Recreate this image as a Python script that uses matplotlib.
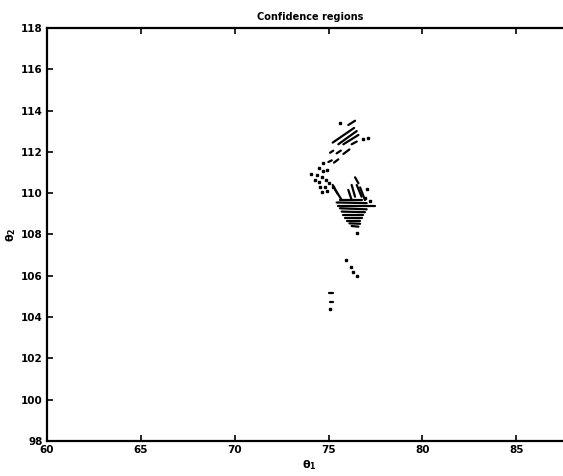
import matplotlib
matplotlib.use("Agg")
import matplotlib.pyplot as plt
from matplotlib.collections import LineCollection

# ---- data (theta1, theta2) ----
title = "Confidence regions"
xticks = [60, 65, 70, 75, 80, 85]
yticks = [98, 100, 102, 104, 106, 108, 110, 112, 114, 116, 118]

# contour fragments: start/end points
seg_x0 = [76.05, 75.22, 75.52, 75.79, 76.23, 75.08, 75.43, 75.79, 74.99, 75.29,
          76.41, 76.23, 76.05, 76.50, 76.68, 75.22, 75.34,
          75.61, 75.43, 75.52, 75.61, 75.70, 75.79, 75.88, 75.97, 76.11, 76.23,
          75.01, 75.08]
seg_y0 = [113.30, 112.45, 112.37, 112.37, 112.37, 111.96, 111.93, 111.90, 111.51, 111.48,
          110.77, 110.40, 110.16, 110.40, 110.28, 110.40, 110.19,
          109.67, 109.55, 109.38, 109.27, 109.11, 108.94, 108.78, 108.67, 108.54, 108.41,
          105.18, 104.75]
seg_x1 = [76.41, 76.36, 76.50, 76.59, 76.50, 75.25, 75.65, 76.11, 75.17, 75.52,
          76.59, 76.41, 76.23, 76.76, 76.94, 75.47, 75.70,
          76.76, 77.03, 77.47, 77.03, 76.94, 76.85, 76.76, 76.68, 76.68, 76.59,
          75.22, 75.22]
seg_y1 = [113.51, 113.16, 113.01, 112.82, 112.50, 112.06, 112.06, 112.12, 111.59, 111.64,
          110.48, 109.83, 109.67, 109.83, 109.67, 109.99, 109.67,
          109.67, 109.52, 109.38, 109.22, 109.08, 108.94, 108.78, 108.67, 108.52, 108.38,
          105.18, 104.75]

# isolated dots
dot_x = [75.61, 76.85, 77.08, 74.72, 74.51, 74.72, 74.94, 74.05, 74.37, 74.65,
         74.86, 74.30, 74.51, 75.04, 74.54, 74.83, 74.63, 74.90, 75.22,
         77.06, 76.94, 77.21, 76.50, 75.93, 76.18, 76.32, 76.50, 75.08]
dot_y = [113.38, 112.62, 112.66, 111.45, 111.20, 111.09, 111.12, 110.93, 110.86, 110.77,
         110.64, 110.64, 110.54, 110.48, 110.28, 110.28, 110.07, 110.09, 110.28,
         110.19, 109.75, 109.60, 108.06, 106.77, 106.41, 106.20, 106.01, 104.39]

fig = plt.figure(figsize=(5.63, 4.76), dpi=100)
ax = fig.add_axes([47/563, 35/476, 525.6/563, 413/476])

segs = [[(a, b), (c, d)] for a, b, c, d in zip(seg_x0, seg_y0, seg_x1, seg_y1)]
ax.add_collection(LineCollection(segs, colors="black", linewidths=1.6, capstyle="round"))
ax.plot(dot_x, dot_y, "s", color="black", markersize=1.6, linestyle="none")

ax.set_xlim(60, 88)
ax.set_ylim(98, 118)
ax.set_xticks(xticks)
ax.set_yticks(yticks)
ax.set_xticklabels([str(v) for v in xticks], fontsize=7.5, fontweight="bold")
ax.set_yticklabels([str(v) for v in yticks], fontsize=7.5, fontweight="bold")
ax.tick_params(direction="in", top=True, right=True, length=4, width=1.2, pad=3)
for s in ax.spines.values():
    s.set_linewidth(1.6)

ax.set_title(title, fontsize=7, fontweight="bold", pad=6)
ax.set_xlabel(r"$\mathbf{\theta_1}$", fontsize=8, labelpad=2)
ax.set_ylabel(r"$\mathbf{\theta_2}$", fontsize=8, labelpad=2)

fig.savefig("out.png", dpi=100, facecolor="white")
